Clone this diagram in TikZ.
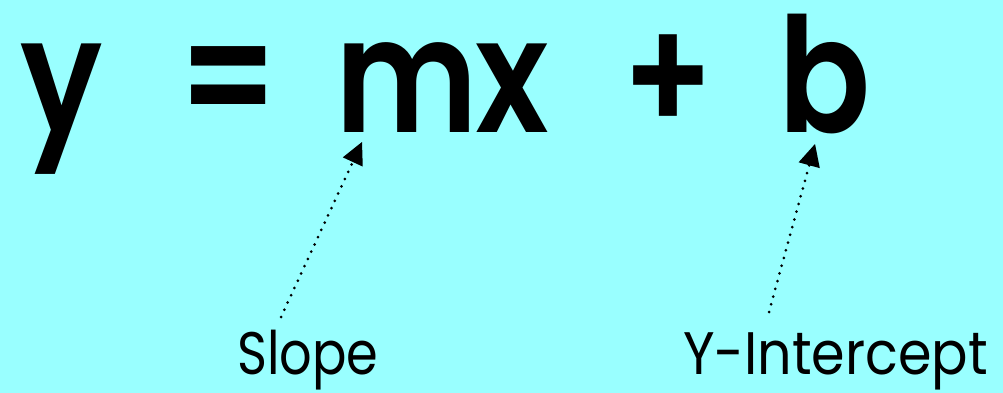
\documentclass[tikz,border=0pt]{standalone}
\usepackage{fontspec}
\setmainfont{Poppins}[FakeStretch=0.85]
\newfontfamily\widelabelfont{Poppins}[FakeStretch=0.9]
\newfontfamily\eqfont{Poppins}[UprightFont=* SemiBold, FakeStretch=0.85]
\usetikzlibrary{arrows.meta}
\definecolor{bgcyan}{HTML}{99FFFF}
\tikzset{
  eqtext/.style={anchor=base west, inner sep=0pt, font=\eqfont\fontsize{160}{160}\selectfont},
  labeltext/.style={anchor=base west, inner sep=0pt, font=\fontsize{60}{60}\selectfont},
  pointer/.style={line width=3pt, line cap=round, dash pattern=on 0pt off 8pt,
    -{Triangle[length=22pt,width=22pt,line width=0pt]}},
}
\begin{document}
\begin{tikzpicture}[x=1pt,y=-1pt]
  \fill[bgcyan] (0,0) rectangle (1003,393);
  \useasboundingbox (0,0) rectangle (1003,393);
  \node[eqtext] (y) at (20,132) {y};
  \node[eqtext] (eq) at (178,132) {=};
  \node[eqtext] (m) at (335,132) {m};
  \node[eqtext] (x) at (475,132) {x};
  \node[eqtext] (plus) at (622,132) {+};
  \node[eqtext] (b) at (778,132) {b};
  \node[labeltext] (slope) at (237,374) {Slope};
  \node[labeltext, font=\widelabelfont\fontsize{60}{60}\selectfont] (yint) at (683,374) {Y-Intercept};
  \coordinate (slopetail) at (281,317);
  \coordinate (slopetip) at (362,142);
  \coordinate (yinttail) at (769,312);
  \coordinate (yinttip) at (815,144);
  \draw[pointer] (slopetail) -- (slopetip);
  \draw[pointer] (yinttail) -- (yinttip);
\end{tikzpicture}
\end{document}
